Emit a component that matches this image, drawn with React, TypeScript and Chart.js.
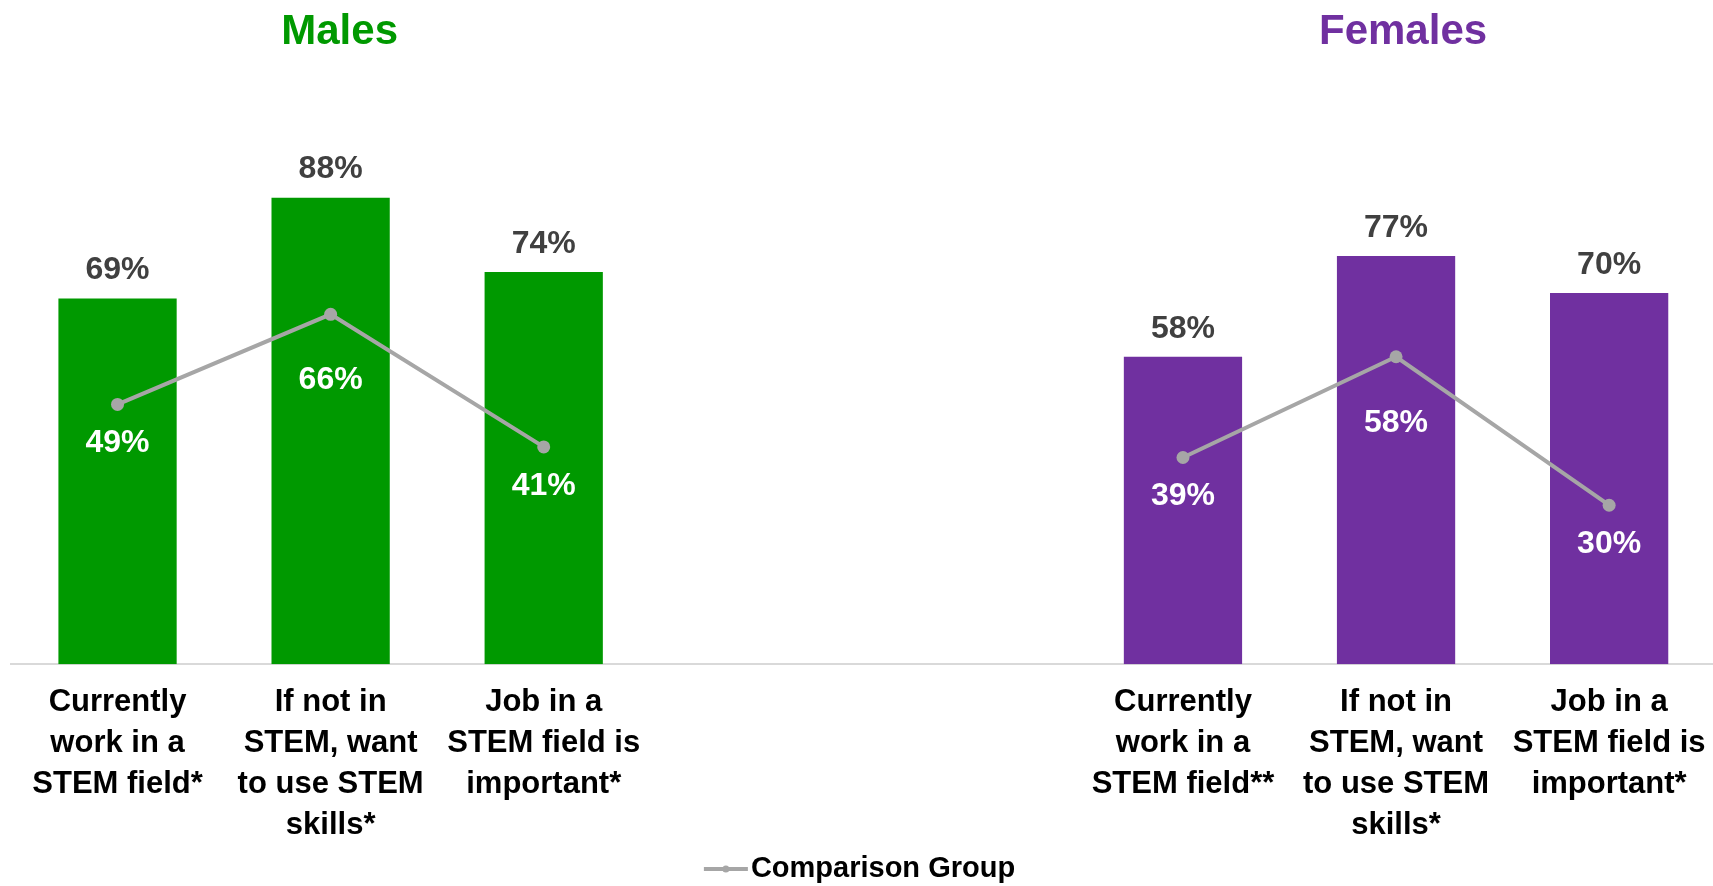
import React, { useEffect, useRef } from "react";
import { Chart, registerables } from "chart.js";

Chart.register(...registerables);

// Categories for each group (multi-line axis labels)
const maleCategories: string[][] = [
  ["Currently", "work in a", "STEM field*"],
  ["If not in", "STEM, want", "to use STEM", "skills*"],
  ["Job in a", "STEM field is", "important*"],
];
const femaleCategories: string[][] = [
  ["Currently", "work in a", "STEM field**"],
  ["If not in", "STEM, want", "to use STEM", "skills*"],
  ["Job in a", "STEM field is", "important*"],
];

// Percentages
const maleValues = [69, 88, 74];
const maleComparison = [49, 66, 41];
const femaleValues = [58, 77, 70];
const femaleComparison = [39, 58, 30];

const groupTitles = ["Males", "Females"];
const legendLabel = "Comparison Group";

const GREEN = "#009900";
const PURPLE = "#7030a0";
const GREY_LINE = "#a6a6a6";
const FONT = '"Liberation Sans", Arial, sans-serif';

const VIEW_W = 1713;
const VIEW_H = 886;
// The plot runs slightly past the right edge of the visible area
const CANVAS_W = 1724;

// Two empty slots separate the groups on one category axis
const GAP = 2;
const gapLabels: string[][] = Array.from({ length: GAP }, () => [""]);
const gapValues: (number | null)[] = Array.from({ length: GAP }, () => null);

const labels = [...maleCategories, ...gapLabels, ...femaleCategories];
const barData = [...maleValues, ...gapValues, ...femaleValues];
const lineData = [...maleComparison, ...gapValues, ...femaleComparison];
const barColors = [
  ...maleValues.map(() => GREEN),
  ...gapValues.map(() => "transparent"),
  ...femaleValues.map(() => PURPLE),
];

const femaleStart = maleValues.length + GAP;

const groupTitlePlugin = {
  id: "groupTitles",
  afterDraw(chart: any) {
    const { ctx, scales } = chart;
    const x = scales.x;
    ctx.save();
    ctx.font = `bold 42px ${FONT}`;
    ctx.textAlign = "center";
    ctx.textBaseline = "middle";
    ctx.fillStyle = GREEN;
    ctx.fillText(groupTitles[0], x.getPixelForValue(1) + 9, 32);
    ctx.fillStyle = PURPLE;
    ctx.fillText(groupTitles[1], x.getPixelForValue(femaleStart + 1) + 7, 32);
    ctx.restore();
  },
};

const valueLabelPlugin = {
  id: "valueLabels",
  afterDatasetsDraw(chart: any) {
    const { ctx } = chart;
    ctx.save();
    ctx.font = `bold 32px ${FONT}`;
    ctx.textAlign = "center";
    ctx.textBaseline = "middle";

    // bar values above each bar
    const barMeta = chart.getDatasetMeta(1);
    barMeta.data.forEach((el: any, i: number) => {
      const v = barData[i];
      if (v == null) return;
      ctx.fillStyle = "#404040";
      ctx.fillText(`${v}%`, el.x, el.y - 28);
    });

    // comparison values below each point, further down at the peak
    const lineMeta = chart.getDatasetMeta(0);
    lineMeta.data.forEach((el: any, i: number) => {
      const v = lineData[i];
      if (v == null) return;
      const posInGroup = i < femaleStart ? i : i - femaleStart;
      const offset = posInGroup === 1 ? 66 : 39;
      ctx.fillStyle = "#ffffff";
      ctx.fillText(`${v}%`, el.x, el.y + offset);
    });
    ctx.restore();
  },
};

const legendPlugin = {
  id: "bottomLegend",
  afterDraw(chart: any) {
    const { ctx } = chart;
    ctx.save();
    ctx.font = `bold 29px ${FONT}`;
    const textW = ctx.measureText(legendLabel).width;
    const lineW = 44;
    const gap = 3;
    const total = lineW + gap + textW;
    const startX = VIEW_W / 2 + 3 - total / 2;
    const y = 869;
    ctx.strokeStyle = GREY_LINE;
    ctx.lineWidth = 4;
    ctx.beginPath();
    ctx.moveTo(startX, y);
    ctx.lineTo(startX + lineW, y);
    ctx.stroke();
    ctx.fillStyle = GREY_LINE;
    ctx.beginPath();
    ctx.arc(startX + lineW / 2, y, 3.5, 0, Math.PI * 2);
    ctx.fill();
    ctx.fillStyle = "#000000";
    ctx.textAlign = "left";
    ctx.textBaseline = "middle";
    ctx.fillText(legendLabel, startX + lineW + gap, y);
    ctx.restore();
  },
};

export default function App() {
  const canvasRef = useRef<HTMLCanvasElement | null>(null);

  useEffect(() => {
    if (!canvasRef.current) return;
    const chart = new Chart(canvasRef.current, {
      type: "bar",
      data: {
        labels,
        datasets: [
          {
            type: "line",
            label: legendLabel,
            data: lineData,
            borderColor: GREY_LINE,
            backgroundColor: GREY_LINE,
            borderWidth: 4,
            pointRadius: 6.5,
            pointBackgroundColor: GREY_LINE,
            pointBorderWidth: 0,
            spanGaps: false,
            tension: 0,
            order: 0,
          } as any,
          {
            type: "bar",
            label: "Value",
            data: barData,
            backgroundColor: barColors,
            barPercentage: 0.555,
            categoryPercentage: 1,
            order: 1,
          } as any,
        ],
      },
      options: {
        responsive: false,
        animation: false,
        layout: { padding: { top: 134, left: 11, right: 0, bottom: 22 } },
        plugins: {
          legend: { display: false },
          tooltip: { enabled: false },
          title: { display: false },
        },
        scales: {
          x: {
            grid: { display: false, drawTicks: false },
            border: { display: true, color: "#d9d9d9", width: 2 },
            ticks: {
              color: "#000000",
              padding: 18,
              maxRotation: 0,
              autoSkip: false,
              font: { family: FONT, size: 31, weight: "bold", lineHeight: 1.32 },
            },
          },
          y: {
            display: false,
            min: 0,
            max: 100,
          },
        },
      },
      plugins: [groupTitlePlugin, valueLabelPlugin, legendPlugin],
    });
    return () => chart.destroy();
  }, []);

  return (
    <div
      style={{
        position: "absolute",
        left: 0,
        top: 0,
        width: VIEW_W,
        height: VIEW_H,
        overflow: "hidden",
        background: "#ffffff",
      }}
    >
      <canvas ref={canvasRef} width={CANVAS_W} height={VIEW_H} style={{ display: "block" }} />
    </div>
  );
}
